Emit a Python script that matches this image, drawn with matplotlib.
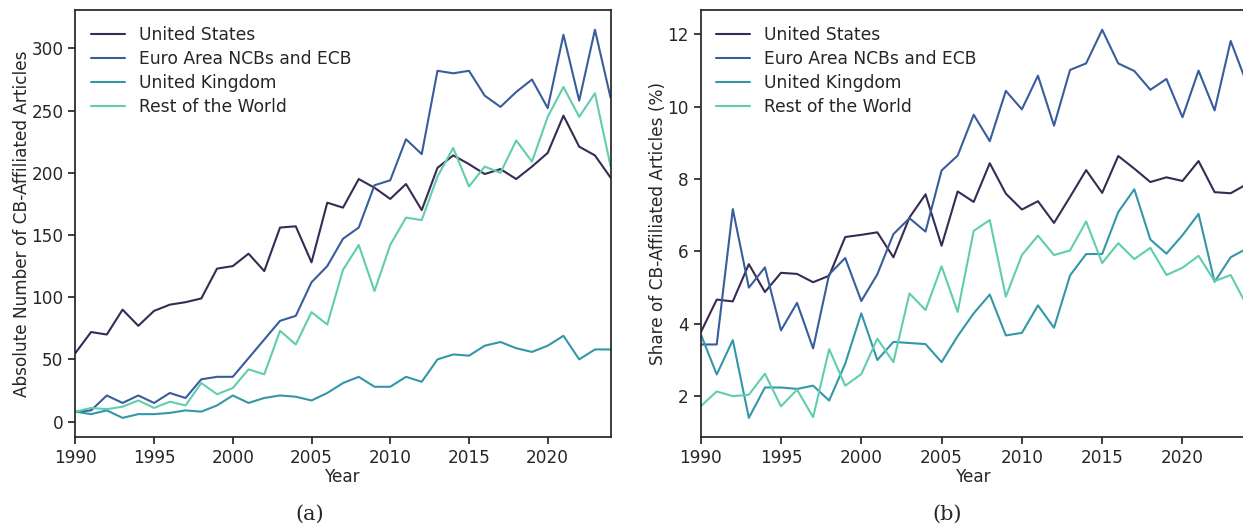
import numpy as np
import matplotlib
matplotlib.use("Agg")
import matplotlib.pyplot as plt
import seaborn as sns

# Jahre
years = np.arange(1990, 2025)

# (a) absolute Anzahl
us_abs = [55, 72, 70, 90, 77, 89, 94, 96, 99, 123, 125, 135, 121, 156, 157, 128, 176, 172,
          195, 188, 179, 191, 170, 204, 214, 207, 199, 203, 195, 205, 216, 246, 221, 214, 196]
euro_abs = [8, 9, 21, 15, 21, 15, 23, 19, 34, 36, 36, 51, 66, 81, 85, 112, 125, 147,
            156, 190, 194, 227, 215, 282, 280, 282, 262, 253, 265, 275, 252, 311, 258, 315, 260]
uk_abs = [8, 6, 9, 3, 6, 6, 7, 9, 8, 13, 21, 15, 19, 21, 20, 17, 23, 31,
          36, 28, 28, 36, 32, 50, 54, 53, 61, 64, 59, 56, 61, 69, 50, 58, 58]
row_abs = [8, 11, 10, 12, 17, 11, 16, 13, 31, 22, 27, 42, 38, 73, 62, 88, 78, 122,
           142, 105, 142, 164, 162, 197, 220, 189, 205, 200, 226, 209, 245, 269, 245, 264, 205]

# (b) Anteil in %
us_share = [3.76, 4.67, 4.62, 5.65, 4.88, 5.41, 5.38, 5.15, 5.33, 6.40, 6.46, 6.53, 5.84, 6.94,
            7.58, 6.16, 7.66, 7.37, 8.44, 7.60, 7.16, 7.39, 6.79, 7.51, 8.25, 7.62, 8.64, 8.29,
            7.92, 8.05, 7.95, 8.50, 7.64, 7.61, 7.86]
euro_share = [3.43, 3.43, 7.17, 5.00, 5.56, 3.82, 4.58, 3.32, 5.37, 5.82, 4.63, 5.37, 6.48, 6.92,
              6.55, 8.24, 8.65, 9.78, 9.05, 10.44, 9.93, 10.86, 9.48, 11.02, 11.20, 12.13, 11.20,
              10.99, 10.47, 10.77, 9.71, 11.00, 9.90, 11.82, 10.65]
uk_share = [3.72, 2.60, 3.55, 1.40, 2.24, 2.24, 2.20, 2.29, 1.88, 2.90, 4.29, 3.00, 3.50, 3.47,
            3.44, 2.94, 3.66, 4.29, 4.81, 3.68, 3.75, 4.51, 3.89, 5.34, 5.93, 5.93, 7.09, 7.72,
            6.33, 5.94, 6.45, 7.04, 5.16, 5.84, 6.08]
row_share = [1.72, 2.13, 2.00, 2.04, 2.62, 1.72, 2.18, 1.42, 3.30, 2.29, 2.61, 3.59, 2.94, 4.84,
             4.38, 5.59, 4.33, 6.57, 6.87, 4.75, 5.90, 6.44, 5.90, 6.03, 6.83, 5.68, 6.23, 5.79,
             6.10, 5.35, 5.55, 5.88, 5.18, 5.35, 4.51]

labels = ["United States", "Euro Area NCBs and ECB", "United Kingdom", "Rest of the World"]

sns.set_theme(style="ticks")
plt.rcParams['font.family'] = ['DejaVu Sans']
plt.rcParams['font.size'] = 12.2
plt.rcParams['xtick.major.size'] = 5
plt.rcParams['ytick.major.size'] = 5
colors = sns.color_palette("mako", 4)

fig = plt.figure(figsize=(12.43, 5.31), dpi=100)
ax1 = fig.add_axes([0.0606, 0.1765, 0.4307, 0.804])
ax2 = fig.add_axes([0.5637, 0.1765, 0.4393, 0.804])

for ax, series, ylabel in [
    (ax1, [us_abs, euro_abs, uk_abs, row_abs], "Absolute Number of CB-Affiliated Articles"),
    (ax2, [us_share, euro_share, uk_share, row_share], "Share of CB-Affiliated Articles (%)"),
]:
    for s, lab, c in zip(series, labels, colors):
        ax.plot(years, s, label=lab, color=c, lw=1.5)
    ax.set_xlim(1990, 2024)
    ax.set_xticks(np.arange(1990, 2021, 5))
    ax.set_xlabel("Year", fontsize=12.2, labelpad=1)
    ax.set_ylabel(ylabel, fontsize=12.2, labelpad=0.5)
    ax.tick_params(labelsize=12.2)
    ax.legend(loc="upper left", frameon=False, fontsize=12.3, handlelength=2.0,
              labelspacing=0.35, borderaxespad=0.5)

ax1.set_yticks(np.arange(0, 301, 50))
ax2.set_yticks(np.arange(2, 13, 2))

# Bildunterschriften
fig.text(0.249, 0.032, "(a)", ha="center", va="center", family="DejaVu Serif", fontsize=15)
fig.text(0.762, 0.032, "(b)", ha="center", va="center", family="DejaVu Serif", fontsize=15)

fig.savefig("out.png", dpi=100)
